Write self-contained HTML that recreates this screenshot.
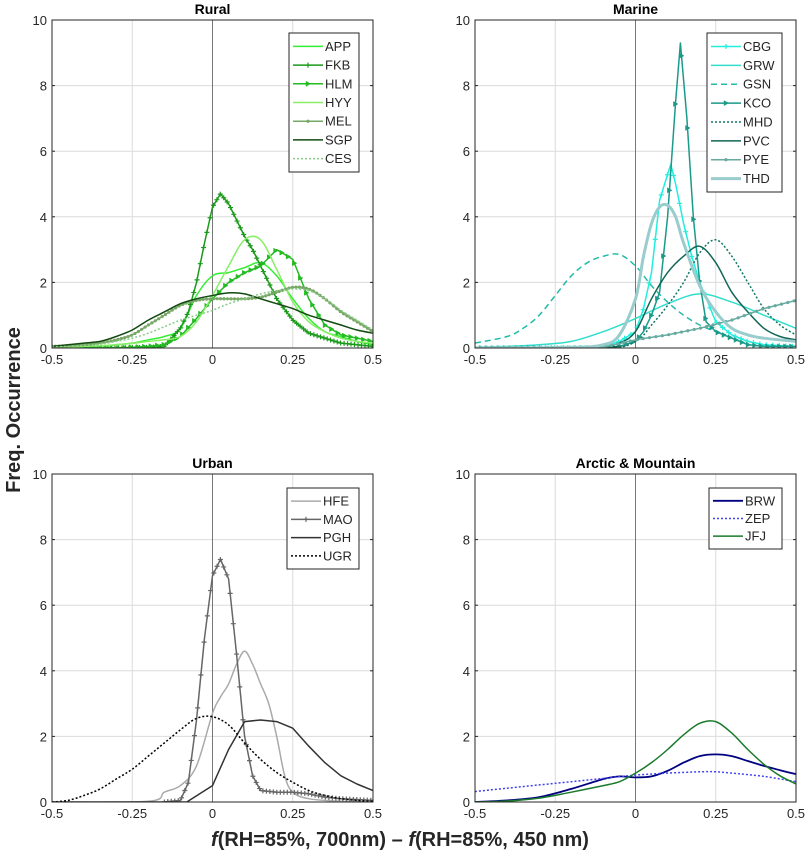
<!DOCTYPE html>
<html><head><meta charset="utf-8"><style>
body{margin:0;background:#fff;font-family:"Liberation Sans",Arial,sans-serif}
svg text{font-family:"Liberation Sans",Arial,sans-serif}
</style></head><body>
<svg id="fig" width="807" height="856" viewBox="0 0 807 856" xmlns="http://www.w3.org/2000/svg">
<text x="20" y="410" transform="rotate(-90 20 410)" text-anchor="middle" font-size="20" font-weight="bold" fill="#262626">Freq. Occurrence</text>
<text x="400" y="846" text-anchor="middle" font-size="20" font-weight="bold" fill="#262626"><tspan font-style="italic">f</tspan>(RH=85%, 700nm) – <tspan font-style="italic">f</tspan>(RH=85%, 450 nm)</text>
</svg>
<script>
// ---------- data ----------
const xTicks=[-0.5,-0.25,0,0.25,0.5];
const xTickLabels=['-0.5','-0.25','0','0.25','0.5'];
const yTicks=[0,2,4,6,8,10];
const yTickLabels=['0','2','4','6','8','10'];
const grid21=[-0.5,-0.45,-0.4,-0.35,-0.3,-0.25,-0.2,-0.15,-0.1,-0.05,0,0.05,0.1,0.15,0.2,0.25,0.3,0.35,0.4,0.45,0.5];
// Rural
const appY=[0.02,0.03,0.04,0.06,0.1,0.15,0.25,0.35,0.6,1.6,2.2,2.3,2.45,2.6,2.2,1.5,0.9,0.5,0.35,0.2,0.1];
const fkbX=[-0.5,-0.3,-0.2,-0.15,-0.1,-0.075,-0.05,-0.025,0,0.025,0.05,0.075,0.1,0.125,0.15,0.2,0.25,0.3,0.35,0.4,0.5];
const fkbY=[0,0,0.02,0.05,0.6,1.1,2.0,3.2,4.3,4.7,4.4,3.9,3.4,3.0,2.5,1.5,0.85,0.45,0.3,0.15,0.05];
const hlmY=[0,0,0,0,0,0.02,0.05,0.1,0.35,0.9,1.5,2.0,2.3,2.5,3.0,2.7,1.5,0.7,0.4,0.3,0.2];
const hyyY=[0.02,0.03,0.05,0.07,0.1,0.14,0.2,0.25,0.35,0.8,1.6,2.5,3.3,3.3,2.4,1.4,0.8,0.5,0.3,0.2,0.15];
const melY=[0.05,0.07,0.1,0.15,0.25,0.4,0.7,1.0,1.3,1.45,1.5,1.5,1.5,1.55,1.7,1.85,1.8,1.5,1.1,0.8,0.5];
const sgpY=[0.05,0.1,0.15,0.2,0.35,0.55,0.85,1.1,1.35,1.5,1.6,1.68,1.65,1.5,1.35,1.2,1.0,0.85,0.7,0.55,0.45];
const cesY=[0.03,0.05,0.08,0.12,0.2,0.3,0.45,0.65,0.85,1.0,1.15,1.35,1.5,1.65,1.75,1.8,1.75,1.5,1.15,0.85,0.55];
// Marine
const kcoX=[-0.5,-0.3,-0.1,-0.05,0,0.025,0.05,0.075,0.1,0.125,0.14,0.16,0.18,0.2,0.22,0.25,0.3,0.35,0.4,0.5];
const kcoY=[0,0,0,0.05,0.2,0.5,1.0,1.7,4.0,7.5,9.3,7.0,4.0,2.0,0.8,0.5,0.3,0.1,0.05,0.05];
const cbgX=[-0.5,-0.3,-0.1,-0.05,0,0.025,0.05,0.075,0.1,0.11,0.125,0.15,0.175,0.2,0.25,0.3,0.35,0.4,0.5];
const cbgY=[0,0,0.02,0.2,0.5,1.2,2.3,4.5,5.3,5.6,5.0,3.8,2.8,2.0,0.8,0.4,0.2,0.1,0.05];
const grwX=[-0.5,-0.4,-0.3,-0.2,-0.1,0,0.1,0.2,0.3,0.4,0.5];
const grwY=[0.02,0.05,0.1,0.2,0.5,0.9,1.35,1.65,1.4,1.0,0.6];
const gsnX=[-0.5,-0.4,-0.35,-0.3,-0.25,-0.2,-0.15,-0.1,-0.05,0,0.05,0.1,0.15,0.2,0.25,0.28];
const gsnY=[0.15,0.35,0.6,1.0,1.6,2.2,2.6,2.8,2.85,2.5,1.9,1.4,1.0,0.7,0.5,0.4];
const mhdX=[-0.5,-0.1,0,0.05,0.1,0.15,0.2,0.25,0.3,0.35,0.4,0.45,0.5];
const mhdY=[0,0,0.2,0.7,1.3,2.0,2.9,3.3,2.8,2.0,1.2,0.7,0.4];
const pvcX=[-0.5,-0.1,-0.05,0,0.05,0.1,0.15,0.2,0.25,0.3,0.35,0.4,0.45,0.5];
const pvcY=[0,0.02,0.15,0.5,1.5,2.3,2.8,3.1,2.6,1.7,1.1,0.6,0.35,0.25];
const pyeX=[-0.5,-0.1,0,0.1,0.2,0.3,0.4,0.5];
const pyeY=[0,0.02,0.25,0.4,0.6,0.85,1.2,1.45];
const thdX=[-0.5,-0.2,-0.1,-0.05,0,0.025,0.05,0.075,0.1,0.125,0.15,0.2,0.25,0.3,0.35,0.4,0.5];
const thdY=[0,0.02,0.1,0.4,1.5,2.8,3.8,4.3,4.35,4.0,3.2,1.9,1.1,0.6,0.4,0.3,0.2];
// Urban
const hfeX=[-0.5,-0.2,-0.15,-0.1,-0.05,0,0.025,0.05,0.075,0.1,0.125,0.15,0.175,0.2,0.225,0.25,0.3,0.4,0.5];
const hfeY=[0,0.02,0.3,0.5,1.1,2.7,3.2,3.6,4.2,4.6,4.2,3.6,3.0,2.0,0.8,0.3,0.1,0.02,0];
const maoX=[-0.15,-0.1,-0.075,-0.05,-0.025,0,0.025,0.05,0.075,0.1,0.125,0.15,0.2,0.25,0.3,0.35,0.4,0.5];
const maoY=[0,0.05,0.6,2.5,5.0,6.9,7.4,6.8,4.5,2.0,0.8,0.35,0.3,0.3,0.25,0.15,0.1,0.05];
const pghX=[-0.5,-0.08,0,0.05,0.1,0.15,0.2,0.25,0.3,0.35,0.4,0.45,0.5];
const pghY=[0,0,0.5,1.6,2.45,2.5,2.45,2.25,1.7,1.2,0.8,0.55,0.35];
const ugrY=[0,0.05,0.2,0.4,0.7,1.0,1.4,1.8,2.2,2.55,2.6,2.35,1.8,1.3,0.9,0.6,0.35,0.2,0.1,0.05,0.02];
// Arctic & Mountain
const brwX=[-0.5,-0.4,-0.3,-0.2,-0.1,-0.05,0,0.05,0.1,0.15,0.2,0.25,0.3,0.35,0.4,0.45,0.5];
const brwY=[0,0.05,0.15,0.4,0.7,0.78,0.75,0.78,0.95,1.2,1.4,1.45,1.4,1.25,1.1,0.97,0.85];
const zepX=[-0.5,-0.4,-0.3,-0.2,-0.1,0,0.1,0.2,0.25,0.3,0.4,0.5];
const zepY=[0.32,0.42,0.52,0.62,0.72,0.82,0.88,0.92,0.92,0.88,0.78,0.62];
const jfjX=[-0.5,-0.4,-0.3,-0.2,-0.1,-0.05,0,0.05,0.1,0.15,0.2,0.25,0.3,0.35,0.4,0.45,0.5];
const jfjY=[0,0.03,0.12,0.3,0.5,0.62,0.88,1.2,1.6,2.05,2.4,2.45,2.1,1.6,1.15,0.8,0.55];

const panels=[
 {name:'rural',title:'Rural',x0:52,y0:20,w:321,h:328,legend:[289,33,70,139],series:[
  {label:'APP',xs:grid21,ys:appY,c:'#33ee33',w:1.5},
  {label:'FKB',xs:fkbX,ys:fkbY,c:'#1a9a1a',w:1.5,m:'+',straight:true,ms:3.2},
  {label:'HLM',xs:grid21,ys:hlmY,c:'#22bb22',w:1.5,m:'>',straight:true,ms:6},
  {label:'HYY',xs:grid21,ys:hyyY,c:'#88ee66',w:1.5},
  {label:'MEL',xs:grid21,ys:melY,c:'#77a866',w:1.5,m:'.',ms:3.2},
  {label:'SGP',xs:grid21,ys:sgpY,c:'#124a12',w:1.5},
  {label:'CES',xs:grid21,ys:cesY,c:'#88cc88',w:1.5,d:'2,2'}]},
 {name:'marine',title:'Marine',x0:475,y0:20,w:321,h:328,legend:[707,33,75,159],series:[
  {label:'CBG',xs:cbgX,ys:cbgY,c:'#22eedd',w:1.5,m:'+',straight:true,ms:6},
  {label:'GRW',xs:grwX,ys:grwY,c:'#33ddcc',w:1.5},
  {label:'GSN',xs:gsnX,ys:gsnY,c:'#22bbaa',w:1.5,d:'6,4'},
  {label:'KCO',xs:kcoX,ys:kcoY,c:'#1a9a8a',w:1.5,m:'>',straight:true,ms:6},
  {label:'MHD',xs:mhdX,ys:mhdY,c:'#117766',w:1.5,d:'2,2'},
  {label:'PVC',xs:pvcX,ys:pvcY,c:'#116655',w:1.5},
  {label:'PYE',xs:pyeX,ys:pyeY,c:'#66aaa0',w:1.5,m:'.',straight:true,ms:6},
  {label:'THD',xs:thdX,ys:thdY,c:'#99cccc',w:3}]},
 {name:'urban',title:'Urban',x0:52,y0:474,w:321,h:328,legend:[287,488,72,81],series:[
  {label:'HFE',xs:hfeX,ys:hfeY,c:'#aaaaaa',w:1.5},
  {label:'MAO',xs:maoX,ys:maoY,c:'#666666',w:1.5,m:'+',straight:true,ms:3.2},
  {label:'PGH',xs:pghX,ys:pghY,c:'#333333',w:1.5,straight:true},
  {label:'UGR',xs:grid21,ys:ugrY,c:'#000000',w:1.5,d:'2,2'}]},
 {name:'arctic-mountain',title:'Arctic & Mountain',x0:475,y0:474,w:321,h:328,legend:[709,488,73,61],series:[
  {label:'BRW',xs:brwX,ys:brwY,c:'#000080',w:1.8},
  {label:'ZEP',xs:zepX,ys:zepY,c:'#4444ee',w:1.5,d:'2,2'},
  {label:'JFJ',xs:jfjX,ys:jfjY,c:'#1a7a2a',w:1.5}]}
];

const NS='http://www.w3.org/2000/svg';
const fig=document.getElementById('fig');
function mk(tag,attrs,parent){const e=document.createElementNS(NS,tag);for(const k in attrs)e.setAttribute(k,attrs[k]);parent.appendChild(e);return e;}
function smoothPath(pts){
 let d='M'+pts[0][0].toFixed(1)+','+pts[0][1].toFixed(1);
 for(let i=0;i<pts.length-1;i++){
  const p0=pts[Math.max(0,i-1)],p1=pts[i],p2=pts[i+1],p3=pts[Math.min(pts.length-1,i+2)];
  const c1=[p1[0]+(p2[0]-p0[0])/6,p1[1]+(p2[1]-p0[1])/6];
  const c2=[p2[0]-(p3[0]-p1[0])/6,p2[1]-(p3[1]-p1[1])/6];
  d+=' C'+c1[0].toFixed(1)+','+c1[1].toFixed(1)+' '+c2[0].toFixed(1)+','+c2[1].toFixed(1)+' '+p2[0].toFixed(1)+','+p2[1].toFixed(1);
 }
 return d;
}
function marker(type,x,y,c,g){
 if(type==='+'){mk('path',{d:`M${x-2.5},${y}H${x+2.5}M${x},${y-2.5}V${y+2.5}`,stroke:c,'stroke-width':1.2,fill:'none'},g);}
 else if(type==='>'){mk('path',{d:`M${x-2},${y-2.5}L${x+2.5},${y}L${x-2},${y+2.5}Z`,fill:c,stroke:c,'stroke-width':0.5},g);}
 else {mk('circle',{cx:x,cy:y,r:1.6,fill:c},g);}
}
panels.forEach(p=>{
 const sx=v=>p.x0+(v+0.5)*p.w;
 const sy=v=>p.y0+p.h-(v/10)*p.h;
 const g=mk('g',{},fig);
 
 
 mk('rect',{x:p.x0,y:p.y0,width:p.w,height:p.h,fill:'#fff'},g);
 xTicks.forEach((t,i)=>{
  const x=sx(t);
  mk('line',{x1:x,y1:p.y0,x2:x,y2:p.y0+p.h,stroke:'#dcdcdc','stroke-width':1},g);
  const lb=mk('text',{x:x,y:p.y0+p.h+16,'text-anchor':'middle','font-size':13,fill:'#262626'},g);
  lb.textContent=xTickLabels[i];
  
  
 });
 yTicks.forEach((t,i)=>{
  const y=sy(t);
  mk('line',{x1:p.x0,y1:y,x2:p.x0+p.w,y2:y,stroke:'#dcdcdc','stroke-width':1},g);
  mk('line',{x1:p.x0,y1:y,x2:p.x0+3,y2:y,stroke:'#262626'},g);
  mk('line',{x1:p.x0+p.w,y1:y,x2:p.x0+p.w-3,y2:y,stroke:'#262626'},g);
  const lb=mk('text',{x:p.x0-5,y:y+5,'text-anchor':'end','font-size':13,fill:'#262626'},g);
  lb.textContent=yTickLabels[i];
  
  
 });
 mk('line',{x1:sx(0),y1:p.y0,x2:sx(0),y2:p.y0+p.h,stroke:'#777','stroke-width':1},g);
 const clip='clip-'+p.name;
 const cp=mk('clipPath',{id:clip},g);
 mk('rect',{x:p.x0,y:p.y0,width:p.w,height:p.h},cp);
 const sg=mk('g',{'clip-path':'url(#'+clip+')'},g);
 p.series.forEach(s=>{
  const pts=s.xs.map((xv,i)=>[sx(xv),sy(s.ys[i])]);
  const d=s.straight?'M'+pts.map(q=>q[0].toFixed(1)+','+q[1].toFixed(1)).join(' L'):smoothPath(pts);
  const path=mk('path',{d:d,fill:'none',stroke:s.c,'stroke-width':s.w,'stroke-linejoin':'round'},sg);
  if(s.d)path.setAttribute('stroke-dasharray',s.d);
  
  
  if(s.m){
   const L=path.getTotalLength();
   let lastX=-1e9;
   for(let l=0;l<=L;l+=0.5){const q=path.getPointAtLength(l);if(q.x-lastX>=s.ms){marker(s.m,q.x,q.y,s.c,sg);lastX=q.x;}}
  }
 });
 mk('rect',{x:p.x0,y:p.y0,width:p.w,height:p.h,fill:'none',stroke:'#262626','stroke-width':1},g);
 const tt=mk('text',{x:p.x0+p.w/2,y:p.y0-6,'text-anchor':'middle','font-size':14,'font-weight':'bold',fill:'#000'},g);
 tt.textContent=p.title;
 
 
 const [lx,ly,lw,lh]=p.legend;
 const lg=mk('g',{},g);
 
 
 mk('rect',{x:lx,y:ly,width:lw,height:lh,fill:'#fff',stroke:'#262626','stroke-width':1},lg);
 const step=(lh-8)/p.series.length;
 p.series.forEach((s,i)=>{
  const y=ly+4+step*(i+0.5);
  const ln=mk('line',{x1:lx+4,y1:y,x2:lx+34,y2:y,stroke:s.c,'stroke-width':s.w},lg);
  if(s.d)ln.setAttribute('stroke-dasharray',s.d);
  if(s.m)marker(s.m,lx+19,y,s.c,lg);
  const t=mk('text',{x:lx+36,y:y+4.5,'font-size':13,fill:'#262626'},lg);
  t.textContent=s.label;
  
  
 });
});
</script>
</body></html>
